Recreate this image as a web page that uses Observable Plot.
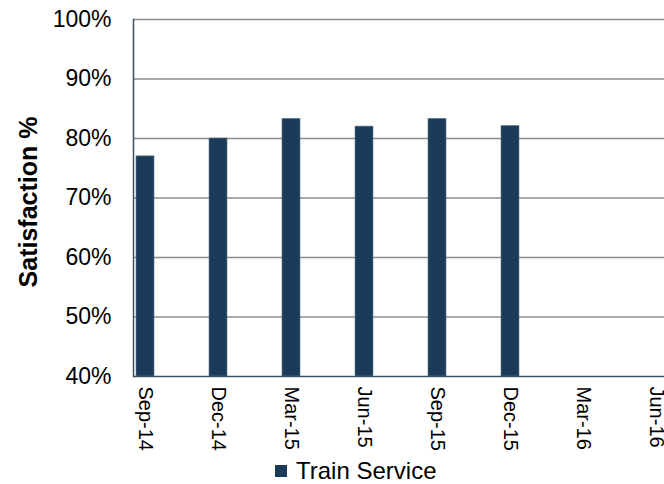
<!DOCTYPE html>
<html>
<head>
<meta charset="utf-8">
<script src="https://cdn.jsdelivr.net/npm/d3@7"></script>
<script src="https://cdn.jsdelivr.net/npm/@observablehq/plot@0.6"></script>
<style>
  html, body { margin: 0; padding: 0; background: #fff; }
  #chart { width: 664px; }
  .legend { display: flex; align-items: center; height: 32px; padding-top: 3px; padding-left: 275px;
    font-family: "Liberation Sans", Arial, sans-serif; font-size: 24px; color: #000; }
  .legend .sw { width: 12px; height: 12px; background: #1b3b58; margin-right: 9px; }
</style>
</head>
<body>
<div id="chart"></div>
<script>
const categories = ["Sep-14", "Dec-14", "Mar-15", "Jun-15", "Sep-15", "Dec-15", "Mar-16", "Jun-16"];
const trainService = [0.77, 0.80, 0.833, 0.82, 0.833, 0.821, null, null];
const yTicks = [0.4, 0.5, 0.6, 0.7, 0.8, 0.9, 1.0];
const seriesName = "Train Service";
const yTitle = "Satisfaction %";

const data = categories
  .map((c, i) => ({ month: c, value: trainService[i] }))
  .filter(d => d.value != null);

const H = 452;
const chart = Plot.plot({
  width: 664,
  height: H,
  marginLeft: 133,
  marginRight: 0,
  marginTop: 19,
  marginBottom: H - 376,
  style: { fontFamily: "Liberation Sans, Arial, sans-serif", background: "#fff", overflow: "visible" },
  x: { domain: categories, range: [108.5, 692.5], paddingInner: 0.7534, paddingOuter: 0.3767, align: 0.5 },
  y: { domain: [0.4, 1.0] },
  marks: [
    Plot.gridY(yTicks.slice(1), { stroke: "#8c8c8c", strokeOpacity: 1, strokeWidth: 1.5 }),
    Plot.barY(data, { x: "month", y1: yTicks[0], y2: "value", fill: "#1b3b58", stroke: "#5c7a96", strokeWidth: 0.6 }),
    Plot.ruleY([yTicks[0]], { stroke: "#3d5166", strokeWidth: 1.5 }),
    Plot.frame({ anchor: "left", stroke: "#3d5166", strokeWidth: 1.5 }),
    Plot.axisY(yTicks, { tickSize: 0, tickPadding: 22, tickFormat: d3.format(".0%"), fontSize: 23, label: null, fill: "#000" }),
    Plot.axisX({ tickSize: 0, tickRotate: 90, tickPadding: 10, fontSize: 20, label: null, fill: "#000" }),
    Plot.text([yTitle], { frameAnchor: "left", textAnchor: "middle", dx: -105, dy: 4, rotate: -90, fontWeight: "bold", fontSize: 25, fill: "#000" })
  ]
});
document.getElementById("chart").appendChild(chart);

const legend = document.createElement("div");
legend.className = "legend";
legend.innerHTML = `<span class="sw"></span><span>${seriesName}</span>`;
document.getElementById("chart").appendChild(legend);
</script>
</body>
</html>
